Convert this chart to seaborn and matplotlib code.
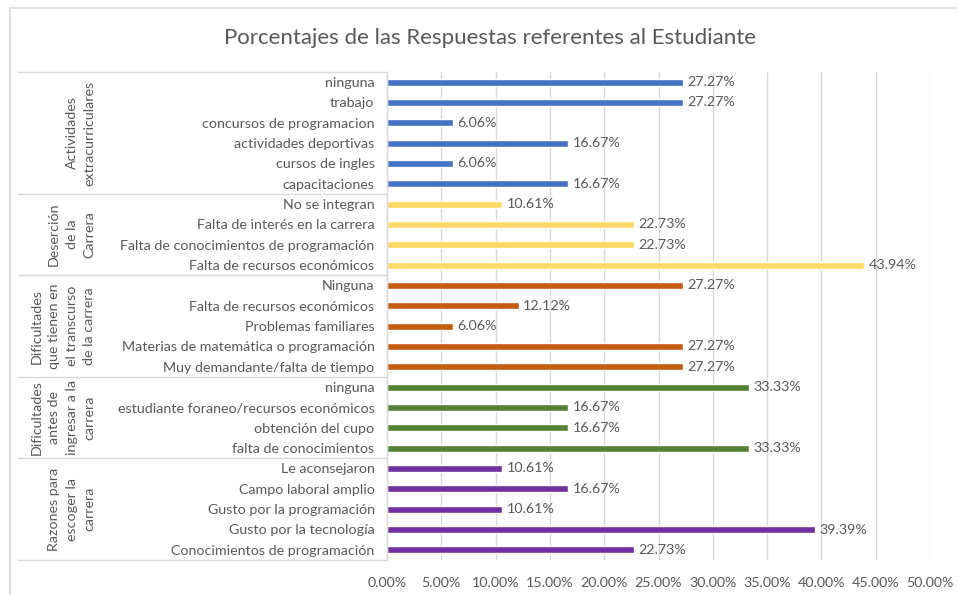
import matplotlib
matplotlib.use("Agg")
import matplotlib.pyplot as plt
import matplotlib.transforms as mtransforms
from matplotlib.patches import Rectangle
import seaborn as sns
import pandas as pd

# ---------------- data ----------------
group_names = [
    "Actividades\nextracurriculares",
    "Deserción\nde la\nCarrera",
    "Dificultades\nque tienen en\nel transcurso\nde la carrera",
    "Dificultades\nantes de\ningresar a la\ncarrera",
    "Razones para\nescoger la\ncarrera",
]
g1_labels = ["ninguna", "trabajo", "concursos de programacion", "actividades deportivas",
             "cursos de ingles", "capacitaciones"]
g1_values = [27.27, 27.27, 6.06, 16.67, 6.06, 16.67]
g2_labels = ["No se integran", "Falta de interés en la carrera",
             "Falta de conocimientos de programación", "Falta de recursos económicos"]
g2_values = [10.61, 22.73, 22.73, 43.94]
g3_labels = ["Ninguna", "Falta de recursos económicos", "Problemas familiares",
             "Materias de matemática o programación", "Muy demandante/falta de tiempo"]
g3_values = [27.27, 12.12, 6.06, 27.27, 27.27]
g4_labels = ["ninguna", "estudiante foraneo/recursos económicos", "obtención del cupo",
             "falta de conocimientos"]
g4_values = [33.33, 16.67, 16.67, 33.33]
g5_labels = ["Le aconsejaron", "Campo laboral amplio", "Gusto por la programación",
             "Gusto por la tecnología", "Conocimientos de programación"]
g5_values = [10.61, 16.67, 10.61, 39.39, 22.73]
group_colors = ["#4472C4", "#FFD966", "#C55A11", "#548235", "#7030A0"]
xticks = [0, 5, 10, 15, 20, 25, 30, 35, 40, 45, 50]

all_labels = [g1_labels, g2_labels, g3_labels, g4_labels, g5_labels]
all_values = [g1_values, g2_values, g3_values, g4_values, g5_values]

rows = []
for gi, (labs, vals) in enumerate(zip(all_labels, all_values)):
    for lab, v in zip(labs, vals):
        rows.append({"key": f"{gi}_{lab}", "label": lab, "value": v, "group": group_names[gi]})
df = pd.DataFrame(rows)

# ---------------- figure ----------------
sns.set_theme(style="white")
plt.rcParams["font.family"] = ["Lato", "DejaVu Sans"]
TXT = "#595959"
GRID = "#D9D9D9"
FS = 10.3

W, H = 957, 595
fig = plt.figure(figsize=(W / 100, H / 100), dpi=100)
L, R, T, B = 387, 930, 72, 560
ax = fig.add_axes([L / W, 1 - B / H, (R - L) / W, (B - T) / H])

sns.barplot(data=df, y="key", x="value", hue="group", palette=group_colors,
            orient="h", dodge=False, width=0.36, ax=ax, legend=False,
            order=df["key"].tolist(), hue_order=group_names, saturation=1)

ax.set_xlim(0, 50)
ax.set_ylim(len(df) - 0.5, -0.5)
ax.set_xticks(xticks)
ax.set_xticklabels([f"{t:.2f}%" for t in xticks], color=TXT, fontsize=FS)
ax.set_yticks(range(len(df)))
ax.set_yticklabels(df["label"].tolist(), color=TXT, fontsize=FS)
ax.tick_params(axis="both", length=0)
ax.tick_params(axis="x", pad=12)
ax.tick_params(axis="y", pad=9)
ax.set_xlabel("")
ax.set_ylabel("")
ax.xaxis.grid(True, color=GRID, linewidth=1)
ax.set_axisbelow(True)
for s in ["top", "right", "bottom"]:
    ax.spines[s].set_visible(False)
ax.spines["left"].set_color(GRID)
ax.spines["left"].set_linewidth(1)

# value labels
for i, v in enumerate(df["value"]):
    ax.text(v + 0.4, i, f"{v:.2f}%", va="center", ha="left", color=TXT, fontsize=FS)

# group separators and group labels
trans = mtransforms.blended_transform_factory(ax.transAxes, ax.transData)
x_left = (18 - L) / (R - L)
x_lab = (95 - L) / (R - L)
start = 0
bounds = [-0.5]
for gi, labs in enumerate(all_labels):
    end = start + len(labs)
    bounds.append(end - 0.5)
    ax.text(x_lab, (start + end - 1) / 2, group_names[gi], transform=trans, rotation=90,
            ha="right", va="center", multialignment="center", color=TXT, fontsize=FS,
            linespacing=1.55)
    start = end
for b in bounds:
    ax.plot([x_left, 0], [b, b], transform=trans, color=GRID, linewidth=1, clip_on=False)

# title
fig.text(490 / W, 1 - 38 / H, "Porcentajes de las Respuestas referentes al Estudiante",
         ha="center", va="center", color=TXT, fontsize=16)

# chart border
fig.patches.append(Rectangle((10 / W, -0.1), 1.2, 1 - 8 / H + 0.1, transform=fig.transFigure,
                             fill=False, edgecolor=GRID, linewidth=1.2))

fig.savefig("out.png", dpi=100)
